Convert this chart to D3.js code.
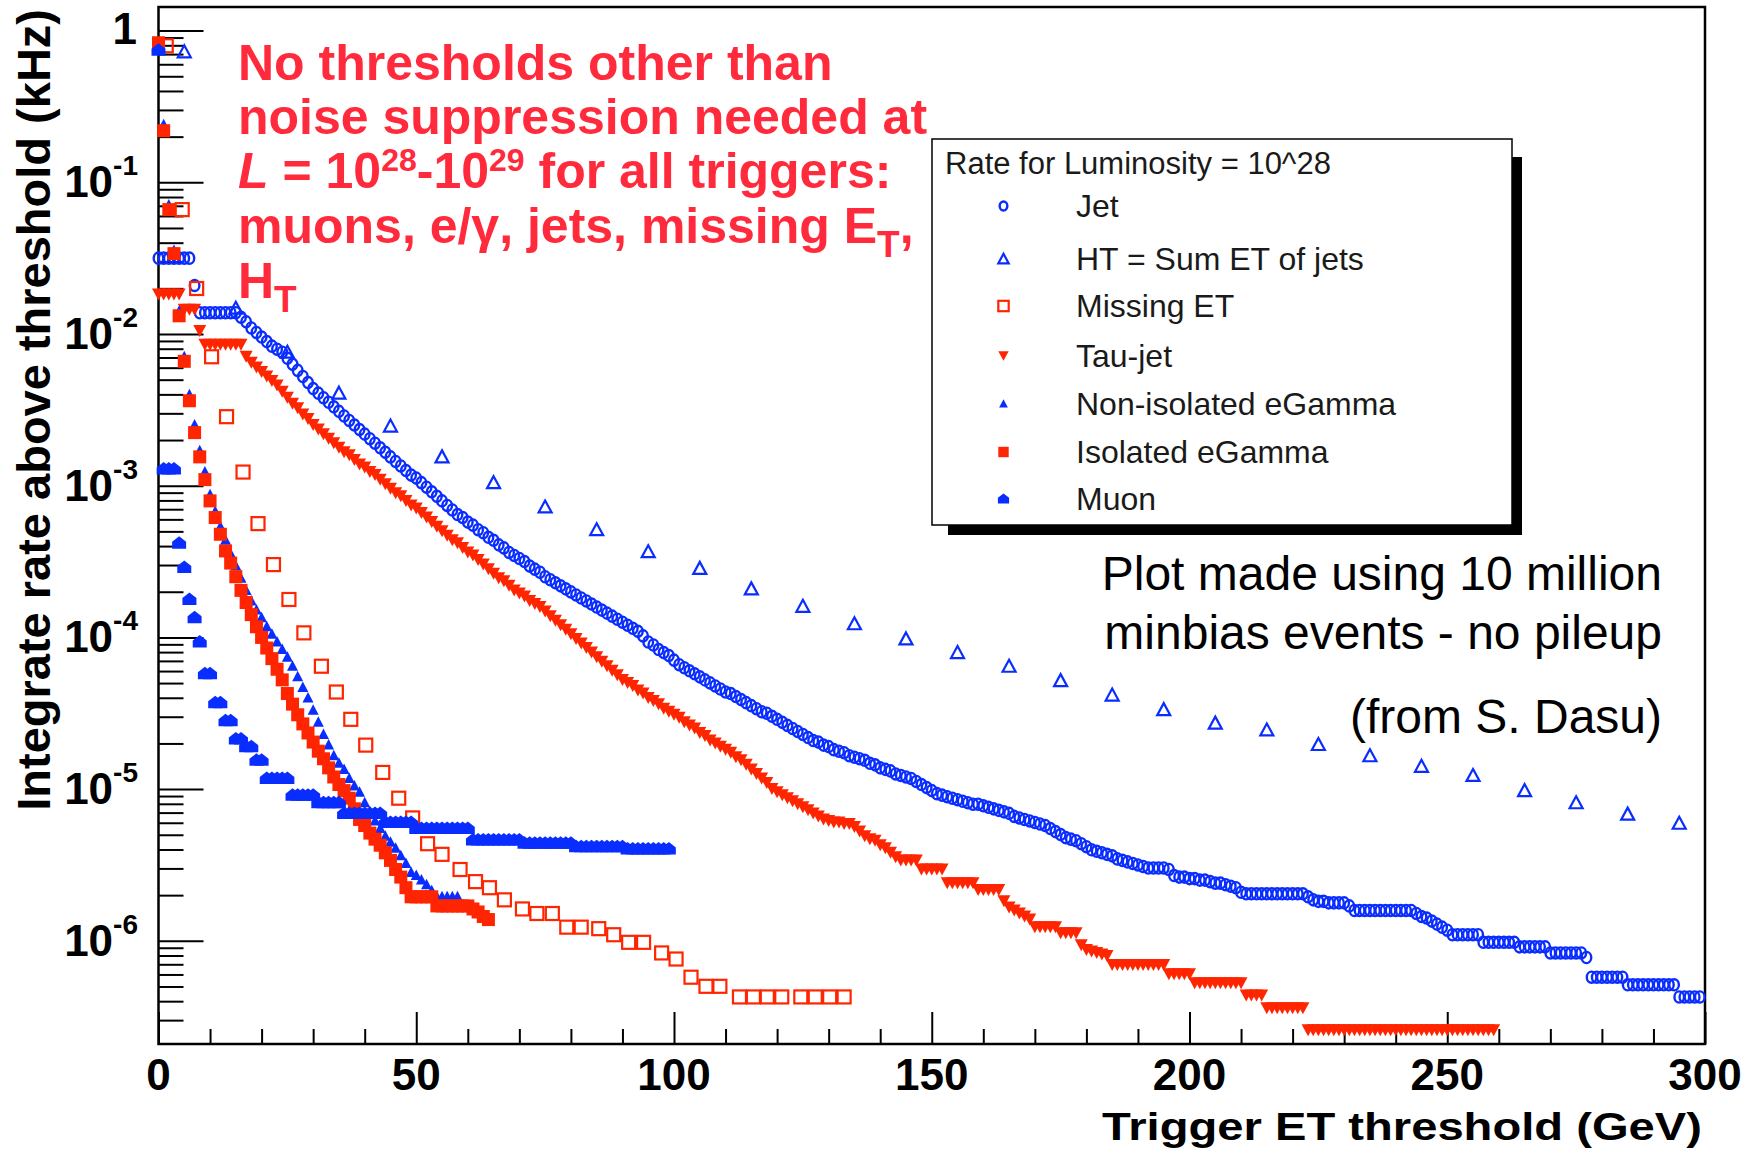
<!DOCTYPE html>
<html><head><meta charset="utf-8">
<script src="https://cdn.jsdelivr.net/npm/d3@7"></script>
<style>html,body{margin:0;padding:0;background:#fff;} svg{display:block;}</style>
</head><body>
<svg id="chart" width="1758" height="1153"></svg>
<script>
// ---------------- DATA (rates in kHz stored as log10 values) -------------
// 1-GeV threshold series: index = trigger ET threshold in GeV
const jetLog10 = [
 -1.50,-1.50,-1.50,-1.50,-1.50,-1.50,-1.50,-1.68,-1.86,-1.86,
 -1.86,-1.86,-1.86,-1.86,-1.86,-1.86,-1.89,-1.92,-1.96,-1.99,
 -2.02,-2.05,-2.08,-2.10,-2.12,-2.16,-2.20,-2.24,-2.28,-2.32,
 -2.36,-2.39,-2.42,-2.45,-2.48,-2.51,-2.54,-2.57,-2.60,-2.63,
 -2.66,-2.69,-2.72,-2.75,-2.78,-2.81,-2.84,-2.87,-2.90,-2.93,
 -2.95,-2.98,-3.01,-3.04,-3.07,-3.10,-3.13,-3.16,-3.19,-3.21,
 -3.24,-3.26,-3.29,-3.31,-3.34,-3.36,-3.39,-3.41,-3.44,-3.46,
 -3.48,-3.50,-3.53,-3.55,-3.57,-3.60,-3.62,-3.64,-3.66,-3.68,
 -3.70,-3.72,-3.74,-3.76,-3.78,-3.80,-3.82,-3.84,-3.86,-3.88,
 -3.90,-3.92,-3.94,-3.96,-3.99,-4.03,-4.05,-4.08,-4.10,-4.12,
 -4.15,-4.18,-4.20,-4.22,-4.24,-4.26,-4.28,-4.30,-4.32,-4.34,
 -4.36,-4.37,-4.39,-4.41,-4.43,-4.45,-4.47,-4.49,-4.50,-4.52,
 -4.54,-4.56,-4.58,-4.60,-4.62,-4.64,-4.66,-4.68,-4.69,-4.71,
 -4.72,-4.74,-4.75,-4.76,-4.78,-4.79,-4.80,-4.81,-4.83,-4.84,
 -4.86,-4.87,-4.88,-4.90,-4.91,-4.92,-4.93,-4.95,-4.97,-4.99,
 -5.01,-5.03,-5.04,-5.05,-5.06,-5.07,-5.08,-5.09,-5.10,-5.10,
 -5.11,-5.12,-5.13,-5.14,-5.15,-5.16,-5.18,-5.19,-5.20,-5.21,
 -5.22,-5.23,-5.24,-5.26,-5.28,-5.30,-5.32,-5.33,-5.34,-5.36,
 -5.38,-5.40,-5.41,-5.42,-5.43,-5.44,-5.46,-5.47,-5.48,-5.49,
 -5.50,-5.51,-5.52,-5.52,-5.52,-5.52,-5.53,-5.57,-5.58,-5.58,
 -5.59,-5.59,-5.60,-5.60,-5.61,-5.62,-5.62,-5.63,-5.64,-5.65,
 -5.68,-5.69,-5.69,-5.69,-5.69,-5.69,-5.69,-5.69,-5.69,-5.69,
 -5.69,-5.69,-5.69,-5.71,-5.73,-5.74,-5.74,-5.75,-5.75,-5.75,
 -5.75,-5.77,-5.80,-5.80,-5.80,-5.80,-5.80,-5.80,-5.80,-5.80,
 -5.80,-5.80,-5.80,-5.80,-5.82,-5.84,-5.85,-5.87,-5.89,-5.91,
 -5.93,-5.96,-5.96,-5.96,-5.96,-5.96,-5.96,-6.01,-6.01,-6.01,
 -6.01,-6.01,-6.01,-6.01,-6.04,-6.04,-6.04,-6.04,-6.04,-6.04,
 -6.08,-6.08,-6.08,-6.08,-6.08,-6.08,-6.08,-6.11,-6.24,-6.24,
 -6.24,-6.24,-6.24,-6.24,-6.24,-6.29,-6.29,-6.29,-6.29,-6.29,
 -6.29,-6.29,-6.29,-6.29,-6.29,-6.37,-6.37,-6.37,-6.37,-6.37
];
// HT = sum ET of jets (10 GeV bins)
const htX = [5,15,25,35,45,55,65,75,85,95,105,115,125,135,145,155,165,175,185,195,205,215,225,235,245,255,265,275,285,295];
const htLog10 = [-0.14,-1.83,-2.12,-2.39,-2.607,-2.81,-2.98,-3.14,-3.29,-3.435,-3.545,-3.68,-3.795,-3.91,-4.01,-4.10,-4.19,-4.285,-4.38,-4.476,-4.565,-4.61,-4.706,-4.78,-4.85,-4.91,-5.01,-5.09,-5.165,-5.225];
// Missing ET
const metX = [1.5,4.6,7.4,10.3,13.2,16.4,19.3,22.3,25.3,28.2,31.6,34.5,37.3,40.2,43.5,46.6,49.3,52.2,55.0,58.5,61.5,64.2,67.1,70.6,73.4,76.4,79.2,82.0,85.4,88.3,91.2,94.1,97.6,100.4,103.3,106.2,108.9,112.7,115.4,118.1,120.9,124.6,127.4,130.2,133.0];
const metLog10 = [-0.10,-1.18,-1.70,-2.15,-2.545,-2.91,-3.25,-3.52,-3.75,-3.97,-4.19,-4.36,-4.54,-4.71,-4.89,-5.06,-5.19,-5.36,-5.43,-5.53,-5.61,-5.65,-5.73,-5.79,-5.82,-5.82,-5.91,-5.91,-5.92,-5.96,-6.01,-6.01,-6.08,-6.12,-6.24,-6.30,-6.30,-6.37,-6.37,-6.37,-6.37,-6.37,-6.37,-6.37,-6.37];
// Tau-jet
const tauLog10 = [
 -1.74,-1.74,-1.74,-1.74,-1.74,-1.84,-1.84,-1.84,-1.98,-2.07,
 -2.07,-2.07,-2.07,-2.07,-2.07,-2.07,-2.07,-2.15,-2.19,-2.22,
 -2.25,-2.28,-2.31,-2.34,-2.38,-2.42,-2.46,-2.49,-2.53,-2.56,
 -2.60,-2.63,-2.66,-2.69,-2.72,-2.75,-2.78,-2.80,-2.83,-2.86,
 -2.88,-2.91,-2.93,-2.96,-2.99,-3.02,-3.05,-3.07,-3.10,-3.13,
 -3.15,-3.18,-3.21,-3.24,-3.27,-3.30,-3.33,-3.36,-3.38,-3.41,
 -3.44,-3.46,-3.49,-3.52,-3.55,-3.58,-3.61,-3.63,-3.66,-3.69,
 -3.71,-3.73,-3.76,-3.78,-3.80,-3.83,-3.86,-3.89,-3.92,-3.95,
 -3.98,-4.01,-4.04,-4.07,-4.10,-4.13,-4.16,-4.19,-4.22,-4.25,
 -4.28,-4.30,-4.32,-4.35,-4.37,-4.40,-4.42,-4.44,-4.47,-4.49,
 -4.51,-4.53,-4.56,-4.58,-4.60,-4.63,-4.65,-4.68,-4.70,-4.72,
 -4.74,-4.76,-4.79,-4.81,-4.84,-4.87,-4.90,-4.93,-4.96,-5.00,
 -5.02,-5.04,-5.06,-5.08,-5.10,-5.12,-5.14,-5.16,-5.18,-5.20,
 -5.21,-5.22,-5.22,-5.23,-5.23,-5.25,-5.28,-5.31,-5.33,-5.34,
 -5.37,-5.39,-5.42,-5.45,-5.47,-5.47,-5.47,-5.47,-5.53,-5.53,
 -5.53,-5.53,-5.53,-5.62,-5.62,-5.62,-5.62,-5.62,-5.62,-5.665,
 -5.665,-5.665,-5.665,-5.665,-5.74,-5.78,-5.80,-5.82,-5.84,-5.86,
 -5.91,-5.91,-5.91,-5.91,-5.91,-5.95,-5.95,-5.95,-5.95,-6.03,
 -6.06,-6.07,-6.08,-6.09,-6.10,-6.16,-6.16,-6.16,-6.16,-6.16,
 -6.16,-6.16,-6.16,-6.16,-6.16,-6.16,-6.22,-6.22,-6.22,-6.22,
 -6.22,-6.28,-6.28,-6.28,-6.28,-6.28,-6.28,-6.28,-6.28,-6.28,
 -6.28,-6.36,-6.36,-6.36,-6.36,-6.445,-6.445,-6.445,-6.445,-6.445,
 -6.445,-6.445,-6.445,-6.59,-6.59,-6.59,-6.59,-6.59,-6.59,-6.59,
 -6.59,-6.59,-6.59,-6.59,-6.59,-6.59,-6.59,-6.59,-6.59,-6.59,
 -6.59,-6.59,-6.59,-6.59,-6.59,-6.59,-6.59,-6.59,-6.59,-6.59,
 -6.59,-6.59,-6.59,-6.59,-6.59,-6.59,-6.59,-6.59,-6.59,-6.59
];
// Non-isolated eGamma
const nonIsoLog10 = [
 -0.13,-0.62,-1.15,-1.45,-1.85,-2.15,-2.40,-2.60,-2.77,-2.91,
 -3.06,-3.17,-3.27,-3.36,-3.45,-3.53,-3.61,-3.69,-3.76,-3.82,
 -3.87,-3.93,-3.98,-4.03,-4.08,-4.13,-4.19,-4.26,-4.33,-4.40,
 -4.48,-4.56,-4.64,-4.71,-4.78,-4.83,-4.87,-4.93,-4.98,-5.02,
 -5.09,-5.15,-5.21,-5.26,-5.31,-5.35,-5.39,-5.44,-5.49,-5.55,
 -5.57,-5.60,-5.63,-5.67,-5.71,-5.71,-5.71,-5.71,-5.71
];
// Isolated eGamma
const isoLog10 = [
 -0.08,-0.66,-1.18,-1.47,-1.88,-2.18,-2.44,-2.65,-2.81,-2.96,
 -3.10,-3.21,-3.32,-3.43,-3.51,-3.60,-3.69,-3.77,-3.85,-3.93,
 -4.00,-4.07,-4.14,-4.21,-4.28,-4.37,-4.44,-4.51,-4.57,-4.63,
 -4.69,-4.75,-4.80,-4.86,-4.92,-4.97,-5.01,-5.06,-5.13,-5.20,
 -5.24,-5.29,-5.33,-5.37,-5.42,-5.47,-5.53,-5.58,-5.65,-5.71,
 -5.71,-5.71,-5.71,-5.71,-5.77,-5.77,-5.77,-5.77,-5.77,-5.77,
 -5.77,-5.79,-5.81,-5.84,-5.86
];
// Muon
const muonLog10 = [
 -0.13,-2.89,-2.89,-2.89,-3.38,-3.54,-3.75,-3.87,-4.03,-4.24,
 -4.24,-4.43,-4.43,-4.55,-4.55,-4.67,-4.67,-4.72,-4.72,-4.81,
 -4.81,-4.93,-4.93,-4.93,-4.93,-4.93,-5.04,-5.04,-5.04,-5.04,
 -5.04,-5.09,-5.09,-5.09,-5.09,-5.09,-5.16,-5.16,-5.16,-5.16,
 -5.16,-5.16,-5.16,-5.16,-5.22,-5.22,-5.22,-5.22,-5.22,-5.22,
 -5.26,-5.26,-5.26,-5.26,-5.26,-5.26,-5.26,-5.26,-5.26,-5.26,
 -5.26,-5.336,-5.336,-5.336,-5.336,-5.336,-5.336,-5.336,-5.336,-5.336,
 -5.336,-5.357,-5.357,-5.357,-5.357,-5.357,-5.357,-5.357,-5.357,-5.357,
 -5.357,-5.38,-5.38,-5.38,-5.38,-5.38,-5.38,-5.38,-5.38,-5.38,
 -5.38,-5.395,-5.395,-5.395,-5.395,-5.395,-5.395,-5.395,-5.395,-5.395
];
const legendTitle = "Rate for Luminosity = 10^28";
const legendLabels = ["Jet","HT = Sum ET of jets","Missing ET","Tau-jet","Non-isolated eGamma","Isolated eGamma","Muon"];
const xTickValues = [0,50,100,150,200,250,300];
const xMinorValues = [10,20,30,40,60,70,80,90,110,120,130,140,160,170,180,190,210,220,230,240,260,270,280,290];
const yTickExponents = [0,-1,-2,-3,-4,-5,-6];
const noteLines = ["Plot made using 10 million","minbias events - no pileup","(from S. Dasu)"];

// ---------------- DRAWING -------------
const FONT = "'Liberation Sans', Arial, Helvetica, sans-serif";
const BLUE = "#0a2dff", RED = "#ff2500", TEXTRED = "#ff2a3c";
const svg = d3.select('#chart');
const X0 = 158.5, X1 = 1705, Y0 = 1044, Y1 = 7;
const x = d3.scaleLinear().domain([0,300]).range([X0, X1]);
const y = d3.scaleLog().domain([2.088e-7, 1.431]).range([Y0, Y1]);

svg.append('rect').attr('width',1758).attr('height',1153).attr('fill','#fff');

// axes ticks (inside the frame, ROOT style)
const yMajor = yTickExponents.map(e => Math.pow(10, e));
const yMinor = [];
for (let e = -7; e <= 0; e++) for (let k = 2; k <= 9; k++) {
  const v = k * Math.pow(10, e);
  if (v > y.domain()[0] && v < y.domain()[1]) yMinor.push(v);
}
function styleAxis(g){ g.select('.domain').remove(); g.selectAll('line').attr('stroke','#000').attr('stroke-width',2); g.selectAll('text').remove(); }
svg.append('g').attr('transform',`translate(${X0},0)`).call(d3.axisRight(y).tickValues(yMajor).tickSize(45).tickFormat('')).call(styleAxis);
svg.append('g').attr('transform',`translate(${X0},0)`).call(d3.axisRight(y).tickValues(yMinor).tickSize(25).tickFormat('')).call(styleAxis);
svg.append('g').attr('transform',`translate(0,${Y0})`).call(d3.axisTop(x).tickValues(xTickValues).tickSize(32).tickFormat('')).call(styleAxis);
svg.append('g').attr('transform',`translate(0,${Y0})`).call(d3.axisTop(x).tickValues(xMinorValues).tickSize(15).tickFormat('')).call(styleAxis);

// frame
svg.append('rect').attr('x',X0).attr('y',Y1).attr('width',X1-X0).attr('height',Y0-Y1)
  .attr('fill','none').attr('stroke','#000').attr('stroke-width',2.5);

// tick labels
svg.append('g').selectAll('text').data(xTickValues).join('text')
  .attr('x', d => x(d)).attr('y', 1090).attr('text-anchor','middle')
  .attr('font-family',FONT).attr('font-weight','bold').attr('font-size',44).attr('fill','#000')
  .text(d => d);
const yl = svg.append('g').attr('font-family',FONT).attr('font-weight','bold').attr('fill','#000');
yTickExponents.forEach(e => {
  const ty = y(Math.pow(10,e));
  if (e === 0) {
    yl.append('text').attr('x',137).attr('y',ty+13).attr('text-anchor','end').attr('font-size',44).text('1');
  } else {
    const t = yl.append('text').attr('x',138).attr('y',ty+15).attr('text-anchor','end').attr('font-size',44);
    t.append('tspan').text('10');
    t.append('tspan').attr('dy',-22).attr('font-size',28).text(String(e));
  }
});

// axis titles
svg.append('text').attr('transform','translate(50,9) rotate(-90)').attr('text-anchor','end')
  .attr('font-family',FONT).attr('font-weight','bold').attr('font-size',47).attr('fill','#000')
  .text('Integrate rate above threshold (kHz)');
svg.append('text').attr('x',1702).attr('y',1140).attr('text-anchor','end')
  .attr('font-family',FONT).attr('font-weight','bold').attr('font-size',39).attr('fill','#000')
  .attr('textLength',600).attr('lengthAdjust','spacingAndGlyphs')
  .text('Trigger ET threshold (GeV)');

// marker definitions (plot size / legend size)
function mk(key, g, s) {
  switch (key) {
    case 'jet':    return g.append('ellipse').attr('rx',4.8*s).attr('ry',5.6*s).attr('fill','none').attr('stroke',BLUE).attr('stroke-width',2.4);
    case 'ht':     return g.append('path').attr('d',`M0,${-6.5*s} L${6.5*s},${5.5*s} L${-6.5*s},${5.5*s} Z`).attr('fill','none').attr('stroke',BLUE).attr('stroke-width',2.2);
    case 'met':    return g.append('rect').attr('x',-6.5*s).attr('y',-6.5*s).attr('width',13*s).attr('height',13*s).attr('fill','none').attr('stroke',RED).attr('stroke-width',2.2);
    case 'tau':    return g.append('path').attr('d',`M${-6.5*s},${-6*s} L${6.5*s},${-6*s} L0,${6*s} Z`).attr('fill',RED);
    case 'noniso': return g.append('path').attr('d',`M0,${-6*s} L${5.5*s},${4.5*s} L${-5.5*s},${4.5*s} Z`).attr('fill',BLUE);
    case 'iso':    return g.append('rect').attr('x',-6.5*s).attr('y',-6.5*s).attr('width',13*s).attr('height',13*s).attr('fill',RED);
    case 'muon':   return g.append('path').attr('d',`M0,${-7*s} L${7*s},${-1.5*s} L${7*s},${5.5*s} L${-7*s},${5.5*s} L${-7*s},${-1.5*s} Z`).attr('fill',BLUE);
  }
}
const series = [
  {key:'jet',    pts: jetLog10.map((v,i)=>({x:i, v:Math.pow(10,v)}))},
  {key:'ht',     pts: htLog10.map((v,i)=>({x:htX[i], v:Math.pow(10,v)}))},
  {key:'met',    pts: metLog10.map((v,i)=>({x:metX[i], v:Math.pow(10,v)}))},
  {key:'tau',    pts: tauLog10.map((v,i)=>({x:i, v:Math.pow(10,v)}))},
  {key:'noniso', pts: nonIsoLog10.map((v,i)=>({x:i, v:Math.pow(10,v)}))},
  {key:'iso',    pts: isoLog10.map((v,i)=>({x:i, v:Math.pow(10,v)}))},
  {key:'muon',   pts: muonLog10.map((v,i)=>({x:i, v:Math.pow(10,v)}))}
];
series.forEach(s => {
  svg.append('g').attr('class','series-'+s.key).selectAll('g').data(s.pts).join('g')
    .attr('transform', d => `translate(${x(d.x)},${y(d.v)})`)
    .each(function(){ mk(s.key, d3.select(this), 1); });
});

// red annotation
const red = svg.append('g').attr('font-family',FONT).attr('font-weight','bold').attr('fill',TEXTRED).attr('font-size',50);
red.append('text').attr('x',238).attr('y',80).text('No thresholds other than');
red.append('text').attr('x',238).attr('y',134).text('noise suppression needed at');
const l3 = red.append('text').attr('x',238).attr('y',188);
l3.append('tspan').attr('font-style','italic').text('L');
l3.append('tspan').text(' = 10');
l3.append('tspan').attr('dy',-17).attr('font-size',32).text('28');
l3.append('tspan').attr('dy',17).text('-10');
l3.append('tspan').attr('dy',-17).attr('font-size',32).text('29');
l3.append('tspan').attr('dy',17).text(' for all triggers:');
const l4 = red.append('text').attr('x',238).attr('y',243);
l4.append('tspan').text('muons, e/\u03b3, jets, missing E');
l4.append('tspan').attr('dy',14).attr('font-size',37).text('T');
l4.append('tspan').attr('dy',-14).text(',');
const l5 = red.append('text').attr('x',238).attr('y',298);
l5.append('tspan').text('H');
l5.append('tspan').attr('dy',14).attr('font-size',37).text('T');

// legend
const LX = 932, LY = 139, LW = 580, LH = 386;
svg.append('rect').attr('x',LX+16).attr('y',LY+18).attr('width',LW-6).attr('height',LH-8).attr('fill','#000');
svg.append('rect').attr('x',LX).attr('y',LY).attr('width',LW).attr('height',LH).attr('fill','#fff').attr('stroke','#000').attr('stroke-width',1.5);
svg.append('text').attr('x',945).attr('y',174).attr('font-family',FONT).attr('font-size',31).attr('fill','#1a1a1a').text(legendTitle);
const entryY = [206,259,306,356,404,452,499];
const keys = ['jet','ht','met','tau','noniso','iso','muon'];
legendLabels.forEach((lab,i) => {
  const g = svg.append('g').attr('transform',`translate(1003.5,${entryY[i]})`);
  mk(keys[i], g, 0.8);
  svg.append('text').attr('x',1076).attr('y',entryY[i]+11).attr('font-family',FONT).attr('font-size',32).attr('fill','#1a1a1a').text(lab);
});

// note
const noteY = [590,649,733];
noteLines.forEach((t,i) => {
  svg.append('text').attr('x',1662).attr('y',noteY[i]).attr('text-anchor','end')
    .attr('font-family',FONT).attr('font-size',48).attr('fill','#000').text(t);
});
</script>
</body></html>
